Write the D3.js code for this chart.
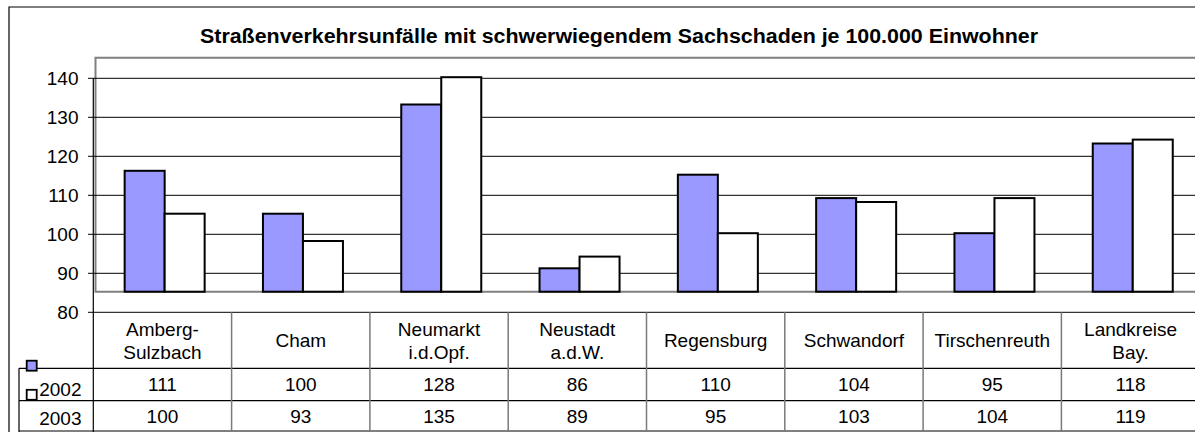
<!DOCTYPE html>
<html>
<head>
<meta charset="utf-8">
<script src="https://cdn.jsdelivr.net/npm/d3@7"></script>
<style>
body{margin:0;background:#fff;}
svg{display:block;font-family:"Liberation Sans",Arial,sans-serif;}
</style>
</head>
<body>
<svg id="chart" width="1195" height="432"></svg>
<script>
// data
var categories = ["Amberg-\nSulzbach", "Cham", "Neumarkt\ni.d.Opf.", "Neustadt\na.d.W.", "Regensburg", "Schwandorf", "Tirschenreuth", "Landkreise\nBay."];
var seriesNames = ["2002", "2003"];
var values2002 = [111, 100, 128, 86, 110, 104, 95, 118];
var values2003 = [100, 93, 135, 89, 95, 103, 104, 119];
var yTicks = [80, 90, 100, 110, 120, 130, 140];
var seriesColors = ["#9999ff", "#ffffff"];
var title = "Straßenverkehrsunfälle mit schwerwiegendem Sachschaden je 100.000 Einwohner";

var W = 1195, H = 432;
var svg = d3.select('#chart');
var allValues = [values2002, values2003];

var step = 138.3;
var tableLeft = 93.3, plotLeft = 95.5;
var plotTop = 57.7, plotBottom = 291.7;

// excel draws the bars a bit above the axis labels, two scales for that
var yBar = d3.scaleLinear().domain([80, 140]).range([plotBottom, plotTop]);
var yAxis = d3.scaleLinear().domain([80, 140]).range([312.3, 78.3]);

var x = d3.scaleBand().domain(categories)
    .range([plotLeft, plotLeft + categories.length * step])
    .paddingInner(1 - 80 / step).paddingOuter((1 - 80 / step) / 2);
var xs = d3.scaleBand().domain(seriesNames).range([0, x.bandwidth()]);
var xTable = d3.scaleBand().domain(categories)
    .range([tableLeft, tableLeft + categories.length * step]);

// outer border
svg.append('path').attr('d', 'M9,' + H + 'V7H' + W)
    .attr('fill', 'none').attr('stroke', '#000').attr('stroke-width', 1.2);

// title
svg.append('text').attr('x', 619).attr('y', 42.7)
    .attr('text-anchor', 'middle')
    .attr('font-size', 20).attr('font-weight', 'bold')
    .attr('textLength', 838).attr('lengthAdjust', 'spacingAndGlyphs')
    .text(title);

// plot area border
svg.append('path').attr('d', 'M' + W + ',' + plotTop + 'H' + plotLeft + 'V' + plotBottom + 'H' + W)
    .attr('fill', 'none').attr('stroke', '#808080').attr('stroke-width', 2);

// gridlines + ticks
svg.selectAll('line.grid')
    .data(yTicks)
    .enter()
    .append('line')
    .attr('class', 'grid')
    .attr('x1', 88).attr('x2', W)
    .attr('y1', function(d) { return yAxis(d); })
    .attr('y2', function(d) { return yAxis(d); })
    .attr('stroke', '#000').attr('stroke-width', 1);

svg.selectAll('text.ylab')
    .data(yTicks)
    .enter()
    .append('text')
    .attr('class', 'ylab')
    .attr('x', 78.5)
    .attr('y', function(d) { return yAxis(d); })
    .attr('dy', '0.33em')
    .attr('text-anchor', 'end')
    .attr('font-size', 19)
    .text(function(d) { return d; });

// bars
seriesNames.forEach(function(s, si) {
    svg.selectAll('rect.s' + si)
        .data(categories)
        .enter()
        .append('rect')
        .attr('class', 's' + si)
        .attr('x', function(d) { return x(d) + xs(s); })
        .attr('width', xs.bandwidth())
        .attr('y', function(d, i) { return yBar(allValues[si][i]); })
        .attr('height', function(d, i) { return yBar(80) - yBar(allValues[si][i]); })
        .attr('fill', seriesColors[si])
        .attr('stroke', '#000').attr('stroke-width', 2);
});

// data table
var rowTop = [312.3, 368.3, 400.7, 431];
svg.selectAll('line.hrow')
    .data(rowTop.slice(1))
    .enter()
    .append('line')
    .attr('class', 'hrow')
    .attr('x1', 19).attr('x2', W)
    .attr('y1', function(d) { return d; })
    .attr('y2', function(d) { return d; })
    .attr('stroke', '#000').attr('stroke-width', 1.2);

svg.append('line').attr('x1', 19).attr('x2', 19).attr('y1', rowTop[1]).attr('y2', H)
    .attr('stroke', '#000').attr('stroke-width', 1.2);
svg.append('line').attr('x1', tableLeft).attr('x2', tableLeft).attr('y1', yAxis(140)).attr('y2', H)
    .attr('stroke', '#000').attr('stroke-width', 1.2);

svg.selectAll('line.vcol')
    .data(categories.slice(1))
    .enter()
    .append('line')
    .attr('class', 'vcol')
    .attr('x1', function(d) { return xTable(d); })
    .attr('x2', function(d) { return xTable(d); })
    .attr('y1', rowTop[0]).attr('y2', H)
    .attr('stroke', '#7a7a7a').attr('stroke-width', 1.5);

// category labels
var catText = svg.selectAll('text.cat')
    .data(categories)
    .enter()
    .append('text')
    .attr('class', 'cat')
    .attr('text-anchor', 'middle')
    .attr('font-size', 19);
catText.each(function(d) {
    var lines = d.split('\n');
    var cx = xTable(d) + xTable.bandwidth() / 2;
    var cy = (rowTop[0] + rowTop[1]) / 2;
    var t = d3.select(this);
    lines.forEach(function(l, k) {
        t.append('tspan')
            .attr('x', cx)
            .attr('y', cy + (k - (lines.length - 1) / 2) * 23)
            .attr('dy', '0.36em')
            .text(l);
    });
});

// values rows
var yearShift = [4.5, 2.5];
seriesNames.forEach(function(s, si) {
    var cy = (rowTop[si + 1] + rowTop[si + 2]) / 2;
    svg.selectAll('text.v' + si)
        .data(categories)
        .enter()
        .append('text')
        .attr('class', 'v' + si)
        .attr('x', function(d) { return xTable(d) + xTable.bandwidth() / 2; })
        .attr('y', cy)
        .attr('dy', '0.36em')
        .attr('text-anchor', 'middle')
        .attr('font-size', 19)
        .text(function(d, i) { return allValues[si][i]; });

    svg.append('text')
        .attr('x', 81.5).attr('y', cy + yearShift[si])
        .attr('dy', '0.36em')
        .attr('text-anchor', 'end')
        .attr('font-size', 19)
        .text(s);
});

// legend keys
var keyY = [360.7, 389.8];
svg.selectAll('rect.key')
    .data(seriesNames)
    .enter()
    .append('rect')
    .attr('class', 'key')
    .attr('x', 26.7)
    .attr('y', function(d, i) { return keyY[i]; })
    .attr('width', 10).attr('height', 10)
    .attr('fill', function(d, i) { return seriesColors[i]; })
    .attr('stroke', '#000').attr('stroke-width', 1.8);
</script>
</body>
</html>
